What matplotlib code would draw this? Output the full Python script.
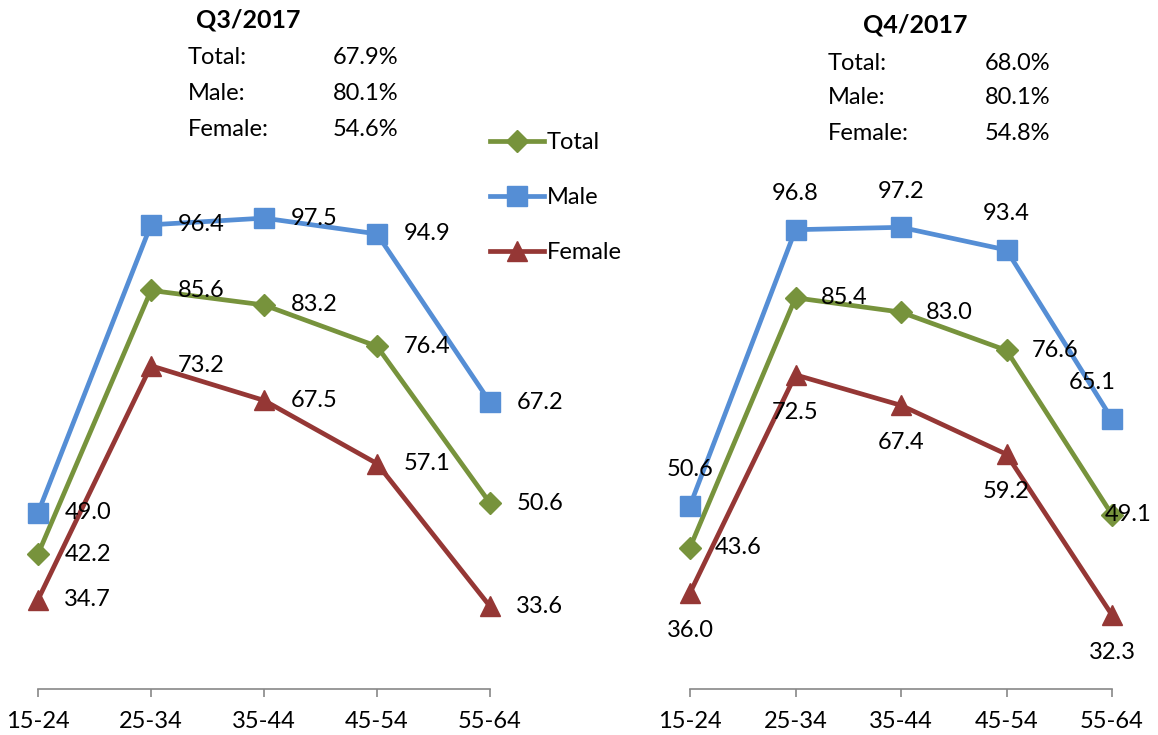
import matplotlib.pyplot as plt
import numpy as np

plt.rcParams['font.family'] = ['Lato', 'DejaVu Sans']

ages = ['15-24', '25-34', '35-44', '45-54', '55-64']

# Q3/2017
q3_total = [42.2, 85.6, 83.2, 76.4, 50.6]
q3_male = [49.0, 96.4, 97.5, 94.9, 67.2]
q3_female = [34.7, 73.2, 67.5, 57.1, 33.6]
q3_summary = [('Total:', '67.9%'), ('Male:', '80.1%'), ('Female:', '54.6%')]

# Q4/2017
q4_total = [43.6, 85.4, 83.0, 76.6, 49.1]
q4_male = [50.6, 96.8, 97.2, 93.4, 65.1]
q4_female = [36.0, 72.5, 67.4, 59.2, 32.3]
q4_summary = [('Total:', '68.0%'), ('Male:', '80.1%'), ('Female:', '54.8%')]

green = '#77933C'
blue = '#558ED5'
red = '#953735'
fs = 17

W, H = 1158, 735
fig = plt.figure(figsize=(W / 100, H / 100), dpi=100)

# axes placed in pixel terms: x from first to last tick, y from 20 to 120
ax1 = fig.add_axes([38 / W, (H - 689) / H, (490 - 38) / W, 607.6 / H])
ax2 = fig.add_axes([690 / W, (H - 688.5) / H, (1112 - 690) / W, 597.4 / H])

x = np.arange(len(ages))


def draw(ax, tot, male, fem):
    lt, = ax.plot(x, tot, color=green, lw=3.4, marker='D', ms=11, clip_on=False, zorder=3, label='Total')
    lm, = ax.plot(x, male, color=blue, lw=3.4, marker='s', ms=14, clip_on=False, zorder=3, label='Male')
    lf, = ax.plot(x, fem, color=red, lw=3.4, marker='^', ms=15, clip_on=False, zorder=3, label='Female')
    ax.set_xlim(0, 4)
    ax.set_ylim(20, 120)
    ax.set_yticks([])
    ax.set_xticks(x)
    ax.set_xticklabels(ages, fontsize=fs)
    for s in ['top', 'right', 'left']:
        ax.spines[s].set_visible(False)
    ax.spines['bottom'].set_color('#888888')
    ax.spines['bottom'].set_linewidth(1.2)
    ax.tick_params(axis='x', length=6, width=1.2, color='#888888', pad=10)
    return lt, lm, lf


handles = draw(ax1, q3_total, q3_male, q3_female)
draw(ax2, q4_total, q4_male, q4_female)

# left panel labels, all to the right
for series in (q3_total, q3_male, q3_female):
    for i, v in enumerate(series):
        ax1.annotate(f'{v:.1f}', (i, v), xytext=(19, 0), textcoords='offset points',
                     ha='left', va='center', fontsize=fs)

# right panel labels
for i, v in enumerate(q4_male):
    dx = -14 if i == 4 else 0
    ax2.annotate(f'{v:.1f}', (i, v), xytext=(dx, 26), textcoords='offset points',
                 ha='center', va='center', fontsize=fs)
for i, v in enumerate(q4_total):
    dx = -5 if i == 4 else 18
    ax2.annotate(f'{v:.1f}', (i, v), xytext=(dx, 0), textcoords='offset points',
                 ha='left', va='center', fontsize=fs)
for i, v in enumerate(q4_female):
    ax2.annotate(f'{v:.1f}', (i, v), xytext=(0, -27), textcoords='offset points',
                 ha='center', va='center', fontsize=fs)

# titles and summaries
fig.text(248 / W, 1 - 20 / H, 'Q3/2017', ha='center', va='center', fontsize=18, fontweight='bold')
for k, (lab, val) in enumerate(q3_summary):
    yy = 1 - (58 + 36 * k) / H
    fig.text(188 / W, yy, lab, ha='left', va='center', fontsize=fs)
    fig.text(333 / W, yy, val, ha='left', va='center', fontsize=fs)

fig.text(915 / W, 1 - 25 / H, 'Q4/2017', ha='center', va='center', fontsize=18, fontweight='bold')
for k, (lab, val) in enumerate(q4_summary):
    yy = 1 - (63 + 35 * k) / H
    fig.text(828 / W, yy, lab, ha='left', va='center', fontsize=fs)
    fig.text(985 / W, yy, val, ha='left', va='center', fontsize=fs)

fig.legend(handles=handles, loc='upper left', bbox_to_anchor=(478 / W, 1 - 120 / H),
           frameon=False, fontsize=fs, handlelength=2.3, handletextpad=0.1,
           labelspacing=1.45, borderpad=0)

fig.savefig('out.png', dpi=100)
